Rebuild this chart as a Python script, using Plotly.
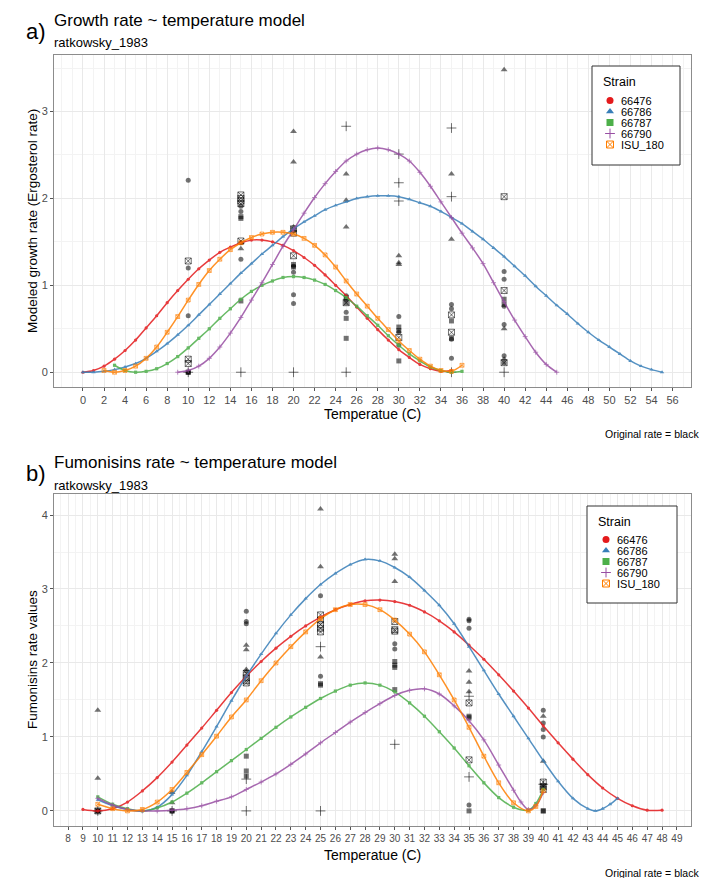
import plotly.graph_objects as go

W, H = 708, 878

STRAINS = ["66476", "66786", "66787", "66790", "ISU_180"]
COLORS = ["#E41A1C", "#377EB8", "#4DAF4A", "#984EA3", "#FF7F00"]
SYMBOLS = ["circle", "triangle-up", "square", "cross-thin-open", "square-x-open"]

# tick labels
A_XTICKS = list(range(0, 57, 2))
A_YTICKS = [0, 1, 2, 3]
B_XTICKS = list(range(8, 50))
B_YTICKS = [0, 1, 2, 3, 4]

# ---------------- Panel a: model curves (growth rate) ----------------
A_T_66476 = list(range(0, 36))
A_V_66476 = [0.00, 0.02, 0.07, 0.15, 0.25, 0.37, 0.51, 0.65, 0.80, 0.94, 1.07, 1.19, 1.29, 1.38,
             1.44, 1.49, 1.52, 1.52, 1.50, 1.46, 1.40, 1.32, 1.23, 1.12, 1.00, 0.88, 0.75, 0.62,
             0.49, 0.37, 0.26, 0.17, 0.09, 0.04, 0.01, 0.02]
A_T_66786 = list(range(0, 56))
A_V_66786 = [0.00, 0.00, 0.01, 0.03, 0.06, 0.10, 0.16, 0.24, 0.33, 0.43, 0.54, 0.66, 0.78, 0.90,
             1.02, 1.14, 1.25, 1.36, 1.46, 1.56, 1.65, 1.73, 1.80, 1.87, 1.92, 1.96, 2.00, 2.02,
             2.03, 2.03, 2.02, 1.99, 1.95, 1.91, 1.85, 1.78, 1.71, 1.62, 1.53, 1.43, 1.33, 1.22,
             1.11, 0.99, 0.88, 0.77, 0.67, 0.56, 0.46, 0.37, 0.29, 0.21, 0.13, 0.07, 0.03, 0.00]
A_T_66787 = list(range(3, 37))
A_V_66787 = [0.08, 0.02, 0.00, 0.01, 0.04, 0.10, 0.18, 0.28, 0.39, 0.50, 0.62, 0.73, 0.84, 0.93,
             1.00, 1.05, 1.09, 1.10, 1.09, 1.06, 1.01, 0.94, 0.86, 0.76, 0.65, 0.54, 0.42, 0.31,
             0.21, 0.13, 0.06, 0.02, 0.00, 0.01]
A_T_66790 = list(range(9, 46))
A_V_66790 = [0.00, 0.02, 0.07, 0.16, 0.29, 0.45, 0.63, 0.83, 1.03, 1.24, 1.45, 1.64, 1.83, 2.01,
             2.17, 2.31, 2.43, 2.51, 2.56, 2.58, 2.56, 2.51, 2.43, 2.30, 2.14, 1.96, 1.78, 1.60,
             1.43, 1.25, 1.03, 0.81, 0.60, 0.41, 0.23, 0.09, 0.00]
A_T_ISU180 = list(range(2, 37))
A_V_ISU180 = [0.02, 0.00, 0.02, 0.07, 0.16, 0.29, 0.46, 0.64, 0.83, 1.01, 1.17, 1.30, 1.41, 1.49,
              1.55, 1.59, 1.61, 1.61, 1.59, 1.54, 1.46, 1.35, 1.21, 1.05, 0.90, 0.76, 0.62, 0.49,
              0.36, 0.25, 0.15, 0.07, 0.02, 0.01, 0.08]

# ---------------- Panel a: observed rates (black) ----------------
A_OT_66476 = [10, 10, 10, 10, 15, 15, 15, 15, 20, 20, 20, 20, 25, 25, 25, 30, 30, 30,
              35, 35, 35, 35, 40, 40, 40, 40, 40, 40]
A_OV_66476 = [2.21, 1.20, 0.65, 0.00, 1.91, 1.85, 1.49, 1.30, 1.22, 1.15, 0.89, 0.79,
              0.88, 0.84, 0.69, 0.64, 0.46, 0.31, 0.78, 0.73, 0.38, 0.16,
              1.16, 1.07, 0.76, 0.55, 0.19, 0.11]
A_OT_66786 = [15, 15, 20, 20, 20, 25, 25, 25, 30, 30, 30, 35, 35, 40, 40, 40]
A_OV_66786 = [1.49, 1.42, 2.77, 2.42, 1.67, 2.28, 1.98, 1.67, 1.34, 1.26, 1.24, 2.28, 1.53,
              3.48, 0.50, 0.15]
A_OT_66787 = [10, 10, 15, 15, 15, 20, 20, 20, 25, 25, 25, 25, 30, 30, 30, 35, 35, 40, 40]
A_OV_66787 = [0.00, 0.00, 1.79, 1.77, 0.82, 1.63, 1.24, 1.21, 0.86, 0.80, 0.62, 0.39,
              0.52, 0.48, 0.13, 0.59, 0.39, 0.84, 0.78]
A_OT_66790 = [10, 15, 20, 25, 25, 30, 30, 30, 35, 35, 35, 40]
A_OV_66790 = [0.00, 0.00, 0.00, 2.83, 0.00, 2.51, 2.18, 1.97, 2.81, 2.02, 0.00, 0.00]
A_OT_ISU180 = [10, 10, 10, 15, 15, 15, 15, 15, 20, 20, 20, 25, 30, 35, 35, 40, 40, 40]
A_OV_ISU180 = [1.28, 0.15, 0.10, 2.04, 2.00, 1.97, 1.94, 1.51, 1.65, 1.60, 1.34, 0.80,
               0.40, 0.66, 0.46, 2.02, 0.94, 0.11]

# ---------------- Panel b: model curves (fumonisins rate) ----------------
B_T_66476 = list(range(9, 49))
B_V_66476 = [0.02, 0.00, 0.03, 0.12, 0.27, 0.45, 0.66, 0.89, 1.12, 1.36, 1.60, 1.82, 2.02,
             2.20, 2.36, 2.50, 2.62, 2.72, 2.79, 2.84, 2.85, 2.83, 2.78, 2.69, 2.57, 2.42,
             2.24, 2.05, 1.84, 1.62, 1.39, 1.15, 0.92, 0.70, 0.49, 0.31, 0.17, 0.07, 0.01, 0.01]
B_T_66786 = [10, 11, 12, 13, 14, 15, 16, 17, 18, 19, 20, 21, 22, 23, 24, 25, 26, 27, 28, 29,
             30, 31, 32, 33, 34, 35, 36, 37, 38, 39, 40, 41, 42, 43, 43.5, 44, 44.5, 45]
B_V_66786 = [0.15, 0.07, 0.02, 0.00, 0.05, 0.22, 0.48, 0.80, 1.14, 1.49, 1.82, 2.12, 2.40,
             2.65, 2.87, 3.06, 3.21, 3.33, 3.40, 3.38, 3.29, 3.16, 2.98, 2.78, 2.53, 2.22,
             1.90, 1.58, 1.28, 0.98, 0.68, 0.40, 0.17, 0.03, 0.00, 0.03, 0.09, 0.17]
B_T_66787 = [10, 11, 12, 13, 14, 15, 16, 17, 18, 19, 20, 21, 22, 23, 24, 25, 26, 27, 28, 29,
             30, 31, 32, 33, 34, 35, 36, 37, 38, 39, 39.5, 40]
B_V_66787 = [0.19, 0.09, 0.03, 0.00, 0.04, 0.12, 0.24, 0.38, 0.53, 0.68, 0.83, 0.98, 1.13,
             1.27, 1.40, 1.52, 1.62, 1.70, 1.73, 1.70, 1.61, 1.46, 1.28, 1.07, 0.85, 0.61,
             0.38, 0.18, 0.05, 0.01, 0.10, 0.29]
B_T_66790 = [10, 11, 12, 13, 14, 15, 16, 17, 18, 19, 20, 21, 22, 23, 24, 25, 26, 27, 28, 29,
             30, 31, 32, 33, 34, 35, 36, 37, 38, 38.5, 39, 39.5, 40]
B_V_66790 = [0.17, 0.08, 0.02, 0.00, 0.00, 0.01, 0.03, 0.07, 0.13, 0.19, 0.29, 0.39, 0.50,
             0.63, 0.77, 0.92, 1.06, 1.20, 1.33, 1.45, 1.56, 1.63, 1.65, 1.58, 1.42, 1.22,
             0.96, 0.62, 0.28, 0.12, 0.02, 0.07, 0.25]
B_T_ISU180 = [10, 11, 12, 13, 14, 15, 16, 17, 18, 19, 20, 21, 22, 23, 24, 25, 26, 27, 28, 29,
              30, 31, 32, 33, 34, 35, 36, 37, 38, 39, 39.5, 40]
B_V_ISU180 = [0.09, 0.03, 0.00, 0.02, 0.12, 0.29, 0.52, 0.76, 1.01, 1.27, 1.50, 1.76, 2.00,
              2.22, 2.42, 2.60, 2.72, 2.79, 2.79, 2.72, 2.58, 2.39, 2.15, 1.84, 1.50, 1.13,
              0.74, 0.38, 0.11, 0.00, 0.06, 0.27]

# ---------------- Panel b: observed rates (black) ----------------
B_OT_66476 = [10, 15, 20, 20, 20, 25, 25, 30, 30, 35, 35, 35, 35, 40, 40, 40, 40]
B_OV_66476 = [0.00, 0.00, 2.70, 2.56, 2.53, 2.91, 1.82, 2.26, 2.19, 2.59, 2.57, 2.47, 0.08,
              1.36, 1.19, 1.10, 1.00]
B_OT_66786 = [10, 10, 15, 15, 20, 20, 20, 20, 25, 25, 25, 30, 30, 30, 35, 35, 35, 40, 40]
B_OV_66786 = [1.36, 0.44, 0.25, 0.11, 2.24, 2.18, 1.91, 1.88, 4.08, 3.30, 2.08, 3.47, 3.41,
              3.10, 1.89, 1.74, 1.61, 1.28, 0.67]
B_OT_66787 = [10, 10, 15, 15, 20, 20, 20, 25, 25, 30, 30, 30, 30, 35, 35, 35, 40, 40, 40]
B_OV_66787 = [0.00, 0.00, 0.00, 0.00, 0.74, 0.54, 0.47, 1.72, 1.70, 2.02, 1.97, 1.94, 1.64,
              1.28, 1.26, 0.00, 0.33, 0.00, 0.00]
B_OT_66790 = [10, 15, 20, 20, 25, 25, 30, 35, 35, 40]
B_OV_66790 = [0.00, 0.00, 0.43, 0.00, 2.22, 0.00, 0.90, 1.55, 0.46, 0.36]
B_OT_ISU180 = [10, 20, 20, 20, 20, 25, 25, 25, 25, 25, 30, 30, 30, 35, 35, 40, 40, 40]
B_OV_ISU180 = [0.00, 1.86, 1.80, 1.76, 1.73, 2.65, 2.58, 2.52, 2.47, 2.42, 2.56, 2.45, 2.43,
               1.46, 0.69, 0.39, 0.33, 0.29]

A_CURVES = [(A_T_66476, A_V_66476), (A_T_66786, A_V_66786), (A_T_66787, A_V_66787),
            (A_T_66790, A_V_66790), (A_T_ISU180, A_V_ISU180)]
A_OBS = [(A_OT_66476, A_OV_66476), (A_OT_66786, A_OV_66786), (A_OT_66787, A_OV_66787),
         (A_OT_66790, A_OV_66790), (A_OT_ISU180, A_OV_ISU180)]
B_CURVES = [(B_T_66476, B_V_66476), (B_T_66786, B_V_66786), (B_T_66787, B_V_66787),
            (B_T_66790, B_V_66790), (B_T_ISU180, B_V_ISU180)]
B_OBS = [(B_OT_66476, B_OV_66476), (B_OT_66786, B_OV_66786), (B_OT_66787, B_OV_66787),
         (B_OT_66790, B_OV_66790), (B_OT_ISU180, B_OV_ISU180)]

FONT = "Liberation Sans, Arial, sans-serif"
OBS_COLOR = "rgba(0,0,0,0.55)"
OBS_SIZE = [5, 6, 5, 7, 6]
CURVE_MSIZE = [3.2, 3.8, 3.2, 3.5, 3.8]

fig = go.Figure()


def add_panel(curves, obs, xa, ya):
    for i, (tx, vy) in enumerate(obs):
        fig.add_trace(go.Scatter(
            x=tx, y=vy, mode="markers", xaxis=xa, yaxis=ya, showlegend=False,
            marker=dict(symbol=SYMBOLS[i], size=OBS_SIZE[i], color=OBS_COLOR,
                        line=dict(width=1, color=OBS_COLOR) if "open" in SYMBOLS[i] else dict(width=0)),
            hoverinfo="skip"))
    for i, (tx, vy) in enumerate(curves):
        fig.add_trace(go.Scatter(
            x=tx, y=vy, mode="lines+markers", xaxis=xa, yaxis=ya, showlegend=False,
            line=dict(color=COLORS[i], width=1.5, shape="spline", smoothing=0.9),
            marker=dict(symbol=SYMBOLS[i], size=CURVE_MSIZE[i], color=COLORS[i],
                        line=dict(width=0.8, color=COLORS[i]) if "open" in SYMBOLS[i] else dict(width=0)),
            opacity=0.85, name=STRAINS[i]))


add_panel(A_CURVES, A_OBS, "x", "y")
add_panel(B_CURVES, B_OBS, "x2", "y2")

# --------- manual legends (pixel overlay axes x3/y3) ----------
shapes = []
ann = []


def add_legend(x0, y0, x1, y1, title_y, first_y, step, mx, tx):
    shapes.append(dict(type="rect", xref="x3", yref="y3", x0=x0, y0=y0, x1=x1, y1=y1,
                       line=dict(color="#333333", width=1), fillcolor="white", layer="below"))
    ann.append(dict(x=x0 + 9, y=title_y, xref="x3", yref="y3", text="Strain", showarrow=False,
                    xanchor="left", yanchor="middle", font=dict(size=12.5, color="black", family=FONT)))
    for i, s in enumerate(STRAINS):
        yy = first_y + i * step
        fig.add_trace(go.Scatter(
            x=[mx], y=[yy], mode="markers", xaxis="x3", yaxis="y3", showlegend=False,
            marker=dict(symbol=SYMBOLS[i], size=7, color=COLORS[i],
                        line=dict(width=1, color=COLORS[i]) if "open" in SYMBOLS[i] else dict(width=0)),
            hoverinfo="skip"))
        ann.append(dict(x=tx, y=yy, xref="x3", yref="y3", text=s, showarrow=False,
                        xanchor="left", yanchor="middle", font=dict(size=11, color="black", family=FONT)))


add_legend(592, 66, 680, 165, 82, 100.5, 11, 610, 619)
add_legend(587, 506, 677, 603, 522, 539.5, 11, 606, 615)


def text(x, y, s, size, anchor="left", color="black", angle=0):
    ann.append(dict(x=x, y=y, xref="x3", yref="y3", text=s, showarrow=False, xanchor=anchor,
                    yanchor="middle", textangle=angle, font=dict(size=size, color=color, family=FONT)))


text(36, 31, "a)", 22, "center")
text(52, 20, "Growth rate ~ temperature model", 17)
text(52, 42, "ratkowsky_1983", 13)
text(32, 221, "Modeled growth rate (Ergosterol rate)", 13.5, "center", angle=-90)
text(372, 414, "Temperatue (C)", 14, "center")
text(701, 434, "Original rate = black", 10.5, "right")

text(36, 473, "b)", 22, "center")
text(52, 462, "Fumonisins rate ~ temperature model", 17)
text(52, 485, "ratkowsky_1983", 13)
text(32, 660, "Fumonisins rate values", 13.5, "center", angle=-90)
text(372, 855, "Temperatue (C)", 14, "center")
text(701, 873, "Original rate = black", 10.5, "right")

axis_common = dict(showline=True, mirror=True, linecolor="#8c8c8c", linewidth=1,
                   ticks="outside", ticklen=3, tickwidth=1, tickcolor="#555555",
                   showgrid=True, gridcolor="#e9e9e9", gridwidth=1, zeroline=False,
                   tickfont=dict(size=11, color="#4d4d4d", family=FONT), fixedrange=True,
                   tickmode="array")
minor_style = dict(showgrid=True, gridcolor="#f3f3f3", gridwidth=0.6, tick0=0)

xdom = [54 / W, 691 / W]
fig.update_layout(
    width=W, height=H, margin=dict(l=0, r=0, t=0, b=0),
    paper_bgcolor="white", plot_bgcolor="rgba(0,0,0,0)", showlegend=False,
    xaxis=dict(domain=xdom, anchor="y", range=[-2.75, 57.75], tickvals=A_XTICKS,
               minor=dict(dtick=1, **minor_style), **axis_common),
    yaxis=dict(domain=[1 - 387 / H, 1 - 55 / H], anchor="x", range=[-0.17, 3.65], tickvals=A_YTICKS,
               minor=dict(dtick=0.5, **minor_style), **axis_common),
    xaxis2=dict(domain=xdom, anchor="y2", range=[7.05, 49.95], tickvals=B_XTICKS,
                minor=dict(dtick=0.5, **minor_style),
                **{**axis_common, "tickfont": dict(size=10, color="#4d4d4d", family=FONT)}),
    yaxis2=dict(domain=[1 - 826 / H, 1 - 494 / H], anchor="x2", range=[-0.204, 4.284], tickvals=B_YTICKS,
                minor=dict(dtick=0.5, **minor_style), **axis_common),
    xaxis3=dict(domain=[0, 1], anchor="y3", range=[0, W], visible=False, fixedrange=True),
    yaxis3=dict(domain=[0, 1], anchor="x3", range=[H, 0], visible=False, fixedrange=True),
    annotations=ann, shapes=shapes,
    font=dict(family=FONT),
)

fig.write_html("out.html")
